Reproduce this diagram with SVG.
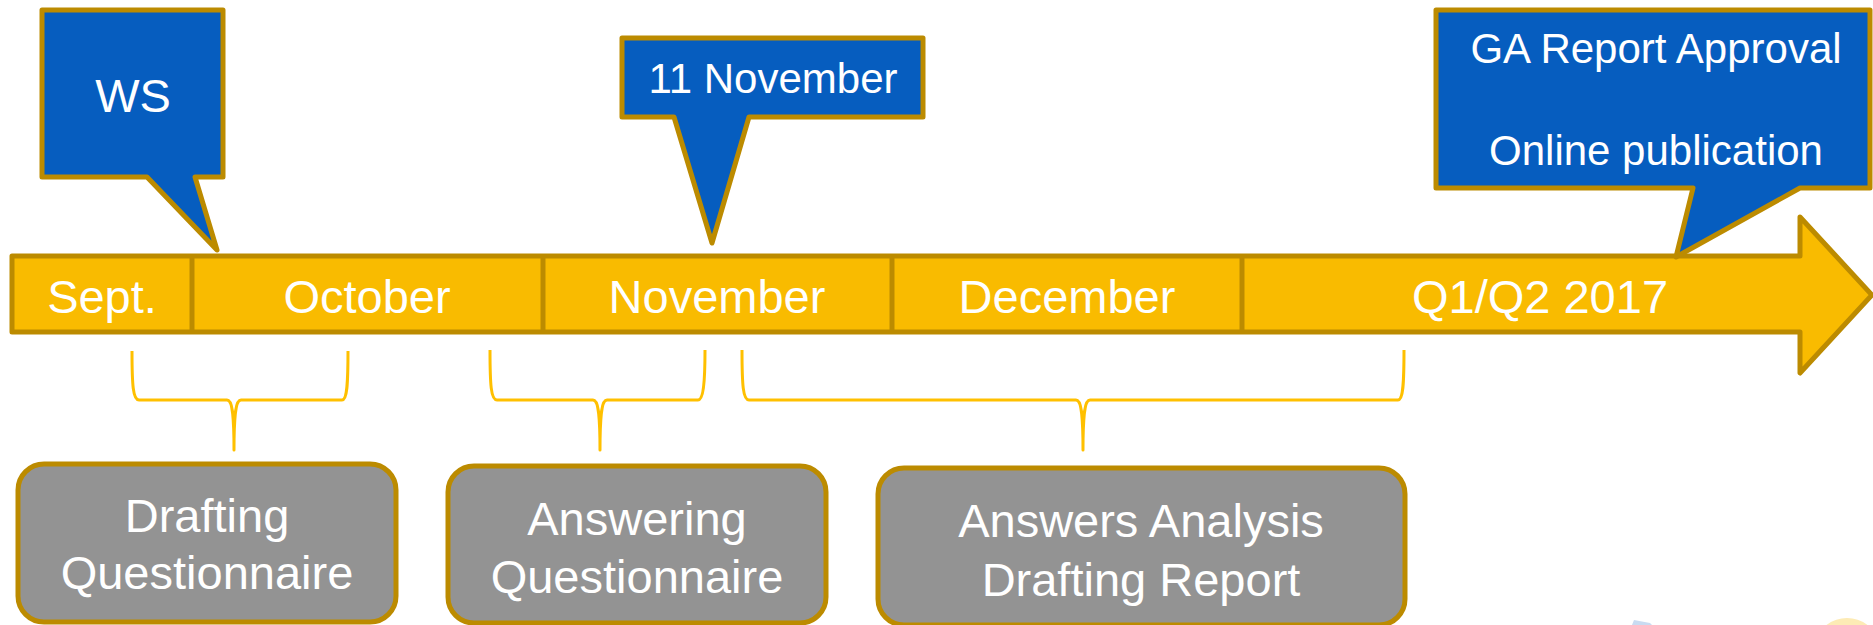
<svg xmlns="http://www.w3.org/2000/svg" width="1873" height="625" viewBox="0 0 1873 625">
<style>
.bar{fill:#F9BB00;stroke:#BC8B00;stroke-width:5;stroke-linejoin:round}
.div{stroke:#BC8B00;stroke-width:5}
.call{fill:#065DBF;stroke:#BC8B00;stroke-width:5;stroke-linejoin:round}
.box{fill:#939393;stroke:#BC8B00;stroke-width:5}
.brace{fill:none;stroke:#FFC000;stroke-width:3;stroke-linejoin:round}
text{font-family:"Liberation Sans",Arial,sans-serif;fill:#FFFFFF;text-anchor:middle}
.t47{font-size:47px}
.t42{font-size:42px}
</style>
<g id="timeline">
<path class="bar" d="M12 256 L1800 256 L1800 217 L1872 295 L1800 373 L1800 332 L12 332 Z"/>
<line class="div" x1="192" y1="256" x2="192" y2="332"/>
<line class="div" x1="543" y1="256" x2="543" y2="332"/>
<line class="div" x1="892" y1="256" x2="892" y2="332"/>
<line class="div" x1="1242" y1="256" x2="1242" y2="332"/>
<text class="t47" x="102" y="313">Sept.</text>
<text class="t47" x="367" y="313">October</text>
<text class="t47" x="717" y="313">November</text>
<text class="t47" x="1067" y="313">December</text>
<text class="t47" x="1540" y="313">Q1/Q2 2017</text>
</g>
<g id="callout-ws">
<path class="call" d="M42 10 L223 10 L223 177 L195 177 L217 250 L147 177 L42 177 Z"/>
<text class="t47" x="133" y="112">WS</text>
</g>
<g id="callout-11nov">
<path class="call" d="M622 38 L923 38 L923 117 L749 117 L712 243 L674 117 L622 117 Z"/>
<text class="t42" x="773" y="93">11 November</text>
</g>
<g id="callout-ga">
<path class="call" d="M1436 10 L1870 10 L1870 188 L1800 188 L1676 257 L1693 188 L1436 188 Z"/>
<text class="t42" x="1656" y="63">GA Report Approval</text>
<text class="t42" x="1656" y="165">Online publication</text>
</g>
<g id="connectors">
<path class="brace" d="M132 351 C132 385 133 400 139 400 L227 400 C232 400 234 412 234 450 C234 412 236 400 241 400 L342 400 C347 400 348 385 348 351"/>
<path class="brace" d="M490 350 C490 385 491 400 497 400 L593 400 C598 400 600 412 600 450 C600 412 602 400 607 400 L698 400 C703 400 705 385 705 350"/>
<path class="brace" d="M742 350 C742 385 743 400 749 400 L1076 400 C1081 400 1083 412 1083 450 C1083 412 1085 400 1090 400 L1398 400 C1403 400 1404 385 1404 350"/>
</g>
<g id="box-drafting">
<rect class="box" x="18" y="464" width="378" height="158" rx="26"/>
<text class="t47" x="207" y="532">Drafting</text>
<text class="t47" x="207" y="589">Questionnaire</text>
</g>
<g id="box-answering">
<rect class="box" x="448" y="466" width="378" height="157" rx="26"/>
<text class="t47" x="637" y="535">Answering</text>
<text class="t47" x="637" y="593">Questionnaire</text>
</g>
<g id="box-analysis">
<rect class="box" x="878" y="468" width="527" height="157" rx="26"/>
<text class="t47" x="1141" y="537">Answers Analysis</text>
<text class="t47" x="1141" y="596">Drafting Report</text>
</g>
<g id="logo-fragment">
<path d="M1632 625 L1634 620 L1650 623 L1652 625 Z" fill="#C9DBF1"/>
<ellipse cx="1847" cy="640" rx="28" ry="22" fill="#FDEBB5"/>
</g>
</svg>
